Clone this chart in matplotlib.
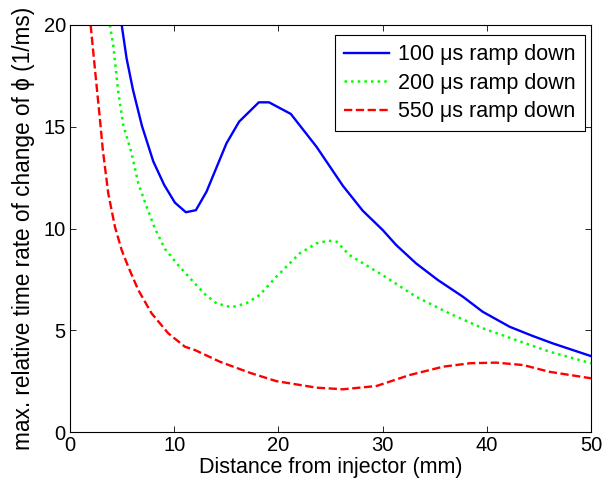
import matplotlib
matplotlib.use("Agg")
import matplotlib.pyplot as plt

plt.rcParams['font.family'] = ['Liberation Sans', 'DejaVu Sans']

# distance from injector (mm) / max. relative rate (1/ms)
x_100 = [4.96, 5.43, 6.05, 6.9, 7.99, 9.04, 10.07, 11.12, 12.08, 13.1, 15.02, 16.23, 18.12, 19.1,
         21.19, 23.65, 26.2, 28.1, 30.0, 31.3, 33.2, 35.3, 37.7, 39.6, 42.2, 44.4, 46.3, 50.0]
y_100 = [20.0, 18.36, 16.8, 15.05, 13.3, 12.14, 11.27, 10.8, 10.9, 11.81, 14.19, 15.25, 16.2, 16.2,
         15.63, 14.02, 12.09, 10.87, 9.93, 9.19, 8.29, 7.47, 6.65, 5.91, 5.17, 4.72, 4.36, 3.73]

x_200 = [3.83, 4.15, 4.63, 5.11, 5.91, 6.55, 7.35, 8.15, 9.11, 10.38, 11.82, 13.0, 14.06, 15.5,
         16.9, 18.2, 19.8, 22.05, 23.65, 24.8, 25.6, 26.8, 30.0, 33.2, 36.4, 39.6, 42.8, 46.0, 50.0]
y_200 = [20.0, 19.0, 16.72, 15.09, 13.7, 12.22, 11.07, 10.0, 9.0, 8.2, 7.39, 6.75, 6.32, 6.13,
         6.32, 6.73, 7.63, 8.78, 9.27, 9.4, 9.35, 8.7, 7.71, 6.65, 5.83, 5.1, 4.52, 3.95, 3.38]

x_550 = [1.98, 2.4, 2.88, 3.15, 3.67, 4.31, 4.96, 5.59, 6.55, 7.83, 9.43, 11.03, 11.98, 14.4,
         17.26, 19.8, 23.65, 26.2, 29.4, 32.6, 35.8, 38.4, 40.9, 43.5, 46.0, 50.0]
y_550 = [20.0, 17.8, 15.33, 13.86, 11.73, 10.09, 8.94, 8.12, 6.98, 5.83, 4.85, 4.19, 4.03, 3.45,
         2.91, 2.5, 2.18, 2.1, 2.26, 2.8, 3.21, 3.38, 3.41, 3.29, 2.96, 2.64]

labels = ['100 \u03bcs ramp down', '200 \u03bcs ramp down', '550 \u03bcs ramp down']

fig = plt.figure(figsize=(6.05, 4.93), dpi=100)
ax = fig.add_axes([0.1157, 0.1237, 0.8612, 0.8256])

ax.plot(x_100, y_100, color=(0, 0, 1), lw=1.7, ls='-', label=labels[0])
ax.plot(x_200, y_200, color=(0, 1, 0), lw=1.8, ls=':', label=labels[1])
ax.plot(x_550, y_550, color=(1, 0, 0), lw=1.7, ls=(0, (3.5, 1.5)), label=labels[2])

ax.set_xlim(0, 50)
ax.set_ylim(0, 20)
ax.set_xticks([0, 10, 20, 30, 40, 50])
ax.set_yticks([0, 5, 10, 15, 20])
ax.tick_params(direction='in', top=True, right=True, length=4, width=0.6, labelsize=14.5, pad=3)
for s in ax.spines.values():
    s.set_linewidth(0.8)

ax.set_xlabel('Distance from injector (mm)', fontsize=15.5, labelpad=1)
ax.set_ylabel('max. relative time rate of change of \u03d5 (1/ms)', fontsize=16.3, labelpad=6)

leg = ax.legend(loc='upper right', bbox_to_anchor=(0.9885, 0.9754), fontsize=15.5,
                frameon=True, fancybox=False, edgecolor='black', framealpha=1,
                handlelength=2.1, handletextpad=0.42, borderpad=0.42,
                labelspacing=0.35, borderaxespad=0)
leg.get_frame().set_linewidth(0.8)

fig.savefig('out.png', dpi=100)
